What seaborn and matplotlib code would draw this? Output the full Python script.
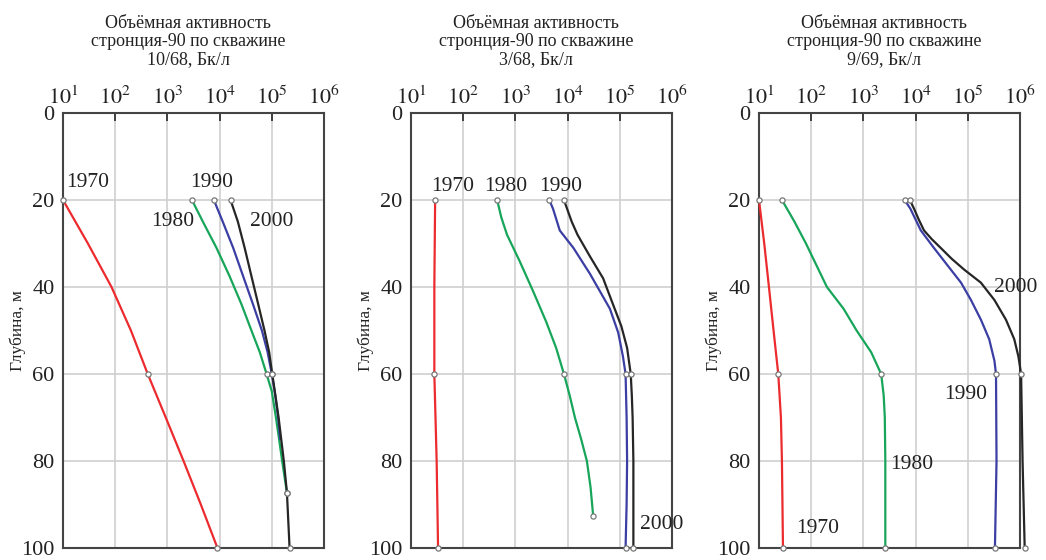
import matplotlib
matplotlib.use("Agg")
import seaborn as sns
import matplotlib.pyplot as plt
from matplotlib.ticker import NullLocator

# axes / text
X_TICKS = [1e1, 1e2, 1e3, 1e4, 1e5, 1e6]
X_TICK_LABELS = [r"$10^{1}$", r"$10^{2}$", r"$10^{3}$", r"$10^{4}$", r"$10^{5}$", r"$10^{6}$"]
Y_TICKS = [0, 20, 40, 60, 80, 100]
Y_LABEL = "Глубина, м"
WELLS = ["10/68", "3/68", "9/69"]
YEARS = ["1970", "1980", "1990", "2000"]
COLORS = {"1970": "#ec2b2f", "1980": "#17a55a", "1990": "#3b3ea3", "2000": "#262626"}
MARK_DEPTHS = [20, 60, 87.3, 92.6, 100]

# well 10/68: depth (m) and Sr-90 activity (Bq/L)
d1068_1970 = [20, 30, 40, 50, 60, 70, 80, 90, 100]
a1068_1970 = [10, 30, 85, 200, 420, 930, 2040, 4370, 9100]
d1068_1980 = [20, 25, 31, 37.5, 44, 50, 55, 60, 64, 70, 75, 80, 87.3]
a1068_1980 = [2950, 4790, 8710, 15500, 26300, 40700, 58900, 79400, 100000, 120000, 138000, 158000, 195000]
d1068_1990 = [20, 25, 31, 37.5, 44, 50, 55, 60, 65, 70, 75]
a1068_1990 = [7760, 11500, 18200, 28200, 43700, 64600, 83200, 100000, 117000, 132000, 145000]
d1068_2000 = [20, 25, 31, 37.5, 44, 50, 55, 60, 70, 80, 87.3, 100]
a1068_2000 = [16200, 22400, 30200, 40700, 55000, 72400, 89100, 102000, 135000, 170000, 195000, 219000]

# well 3/68
d368_1970 = [20, 40, 60, 80, 100]
a368_1970 = [29, 28, 28, 31, 33]
d368_1980 = [20, 24, 28, 34, 41, 48, 54, 60, 65, 70, 75, 80, 86, 92.6]
a368_1980 = [447, 537, 692, 1200, 2190, 3890, 6030, 8510, 11000, 13800, 18200, 23400, 27500, 30900]
d368_1990 = [20, 22, 27, 31, 37, 41, 45, 50.5, 56, 60, 70, 80, 90, 100]
a368_1990 = [4470, 5250, 7080, 12900, 26900, 41700, 64600, 93300, 115000, 129000, 135000, 138000, 135000, 129000]
d368_2000 = [20, 22, 25, 28, 33, 38, 44, 49, 54, 60, 65, 70, 80, 90, 100]
a368_2000 = [8510, 9770, 12000, 15500, 26900, 47900, 74100, 107000, 138000, 162000, 170000, 176000, 182000, 182000, 182000]

# well 9/69
d969_1970 = [20, 30, 40, 50, 60, 70, 80, 100]
a969_1970 = [10, 12.6, 15.5, 19, 23.4, 26.3, 27.5, 28.8]
d969_1980 = [20, 25, 30, 35, 40, 45, 50, 55, 60, 65, 70, 80, 100]
a969_1980 = [27.5, 47.9, 79.4, 126, 200, 417, 741, 1410, 2190, 2450, 2570, 2630, 2630]
d969_1990 = [20, 22, 24.5, 27, 31, 35, 39, 43, 47.5, 52, 57, 60, 80, 100]
a969_1990 = [6170, 7940, 10000, 12600, 22400, 40700, 74100, 115000, 178000, 257000, 324000, 347000, 355000, 331000]
d969_2000 = [20, 22, 24.5, 27, 29, 31, 33.5, 36, 39, 43, 47.5, 52, 56, 60, 80, 100]
a969_2000 = [7760, 9330, 11500, 14500, 20400, 30200, 49000, 85100, 178000, 324000, 537000, 776000, 933000, 1050000, 1120000, 1230000]

# year label anchors (activity, depth)
LABELS = [
    [(30, 16), (1260, 25), (7200, 16), (98000, 25)],
    [(62, 17), (660, 17), (7400, 17), (630000, 94.6)],
    [(132, 95.6), (8300, 80.7), (91000, 64.7), (830000, 40)],
]

PANELS = [
    {"1970": (d1068_1970, a1068_1970), "1980": (d1068_1980, a1068_1980),
     "1990": (d1068_1990, a1068_1990), "2000": (d1068_2000, a1068_2000)},
    {"1970": (d368_1970, a368_1970), "1980": (d368_1980, a368_1980),
     "1990": (d368_1990, a368_1990), "2000": (d368_2000, a368_2000)},
    {"1970": (d969_1970, a969_1970), "1980": (d969_1980, a969_1980),
     "1990": (d969_1990, a969_1990), "2000": (d969_2000, a969_2000)},
]


def main() -> None:
    sns.set_style("white")
    plt.rcParams["font.family"] = ["Liberation Serif", "DejaVu Serif"]
    plt.rcParams["mathtext.fontset"] = "stix"

    fig = plt.figure(figsize=(10.46, 5.6), dpi=100)
    lefts = [63 / 1046, 411 / 1046, 759 / 1046]

    for i, left in enumerate(lefts):
        ax = fig.add_axes([left, 12 / 560, 261 / 1046, 435 / 560])
        ax.set_xscale("log")

        for year in YEARS:
            depth, act = PANELS[i][year]
            sns.lineplot(x=act, y=depth, sort=False, estimator=None, color=COLORS[year],
                         lw=1.6, ax=ax, clip_on=False, zorder=3, legend=False)
            mx = [a for a, d in zip(act, depth) if d in MARK_DEPTHS]
            my = [d for d in depth if d in MARK_DEPTHS]
            sns.scatterplot(x=mx, y=my, marker="o", s=14, facecolor="white",
                            edgecolor="#777777", linewidth=0.9, ax=ax, zorder=5,
                            clip_on=False, legend=False)

        for year, (lx, ly) in zip(YEARS, LABELS[i]):
            ax.text(lx, ly, year, ha="center", va="center", fontsize=15.5, color="#222222")

        ax.set_xlim(10, 1e6)
        ax.set_ylim(100, 0)
        ax.xaxis.tick_top()
        ax.set_xticks(X_TICKS, X_TICK_LABELS)
        ax.xaxis.set_minor_locator(NullLocator())
        ax.set_yticks(Y_TICKS)
        ax.grid(True, color="#cfcfcf", lw=1.2)
        ax.tick_params(axis="both", direction="in", length=6, width=1.3, color="#333333",
                       labelsize=16, labelcolor="#222222")
        ax.tick_params(axis="x", pad=3)
        ax.tick_params(axis="y", pad=6)
        for sp in ax.spines.values():
            sp.set_color("#444444")
            sp.set_linewidth(1.5)

        ax.set_xlabel("")
        ax.set_ylabel(Y_LABEL, fontsize=12.5, color="#222222")
        ax.yaxis.set_label_coords(-0.142, 0.5)

        title = f"Объёмная активность\nстронция-90 по скважине\n{WELLS[i]}, Бк/л"
        ax.text(0.48, 1.103, title, transform=ax.transAxes, ha="center", va="bottom",
                fontsize=13, linespacing=1.1, color="#222222")

    fig.savefig("out.png", dpi=100)
    plt.close(fig)


if __name__ == "__main__":
    main()
